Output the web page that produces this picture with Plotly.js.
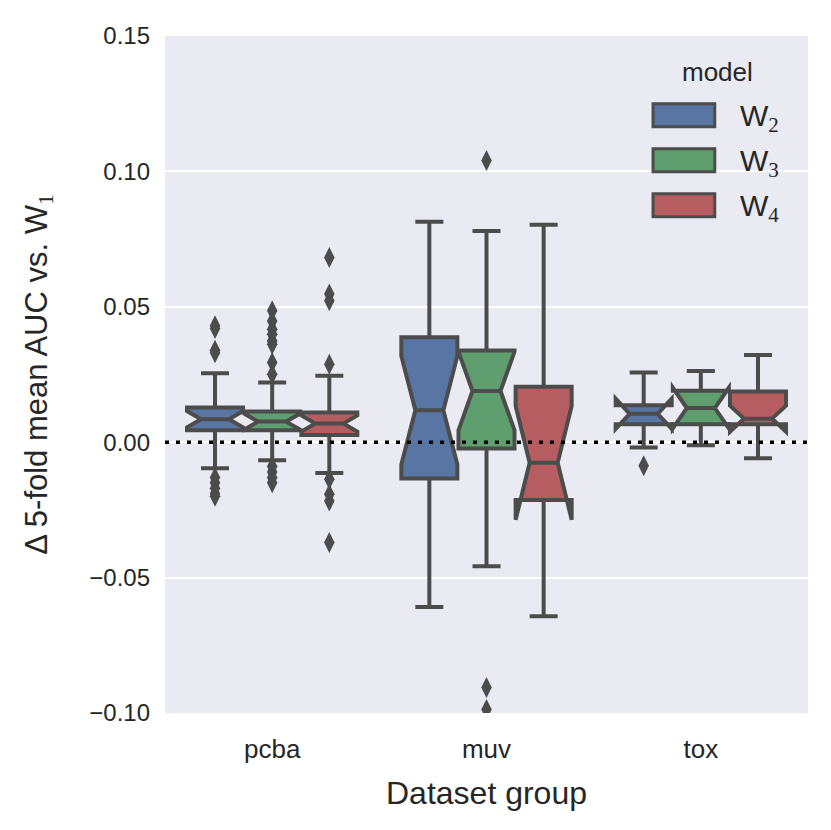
<!DOCTYPE html>
<html>
<head>
<meta charset="utf-8">
<script src="https://cdn.plot.ly/plotly-3.0.1.min.js"></script>
<style>
  body { margin: 0; background: #fff; }
  #chart { width: 831px; height: 830px; }
</style>
</head>
<body>
<div id="chart"></div>
<script>
const groups = ['pcba', 'muv', 'tox'];
const models = ['W<sub><span style="font-family:\'Liberation Serif\',serif">2</span></sub>',
                'W<sub><span style="font-family:\'Liberation Serif\',serif">3</span></sub>',
                'W<sub><span style="font-family:\'Liberation Serif\',serif">4</span></sub>'];
const yTicks = [-0.10, -0.05, 0.00, 0.05, 0.10, 0.15];

// box stats per model, one value per group (pcba, muv, tox)
const w2Q1 = [0.0044, -0.0134, 0.0066];
const w2Median = [0.0085, 0.0118, 0.0105];
const w2Q3 = [0.0128, 0.0388, 0.0136];
const w2Lower = [-0.0096, -0.0609, -0.0020];
const w2Upper = [0.0255, 0.0814, 0.0257];
const w2Notch = [0.003, 0.020, 0.0056];

const w3Q1 = [0.0044, -0.0023, 0.0066];
const w3Median = [0.0076, 0.0189, 0.0126];
const w3Q3 = [0.0113, 0.0339, 0.0190];
const w3Lower = [-0.0067, -0.0458, -0.0011];
const w3Upper = [0.0220, 0.0780, 0.0263];
const w3Notch = [0.003, 0.0145, 0.0075];

const w4Q1 = [0.0027, -0.0213, 0.0066];
const w4Median = [0.0069, -0.0076, 0.0087];
const w4Q3 = [0.0110, 0.0205, 0.0187];
const w4Lower = [-0.0114, -0.0643, -0.0059];
const w4Upper = [0.0245, 0.0803, 0.0322];
const w4Notch = [0.003, 0.0210, 0.0048];

// outliers: value + the group it belongs to
const w2Outliers = [0.043, 0.042, 0.034, 0.033, -0.013, -0.015, -0.017, -0.019, -0.020, -0.0087];
const w2OutGroup = ['pcba', 'pcba', 'pcba', 'pcba', 'pcba', 'pcba', 'pcba', 'pcba', 'pcba', 'tox'];
const w3Outliers = [0.0485, 0.0448, 0.0417, 0.0399, 0.0374, 0.0362, 0.0294, 0.0251, -0.009, -0.011, -0.013, -0.015, 0.104, -0.0906, -0.0987];
const w3OutGroup = ['pcba', 'pcba', 'pcba', 'pcba', 'pcba', 'pcba', 'pcba', 'pcba', 'pcba', 'pcba', 'pcba', 'pcba', 'muv', 'muv', 'muv'];
const w4Outliers = [0.0682, 0.0547, 0.0522, 0.0288, -0.0137, -0.0192, -0.0217, -0.037];
const w4OutGroup = ['pcba', 'pcba', 'pcba', 'pcba', 'pcba', 'pcba', 'pcba', 'pcba'];

const colors = ['#5975a4', '#5f9e6e', '#b55d60'];
const edge = '#4c4c4c';
const font = 'Arial, "Liberation Sans", sans-serif';

const stats = [
  [w2Q1, w2Median, w2Q3, w2Lower, w2Upper, w2Notch, w2Outliers, w2OutGroup],
  [w3Q1, w3Median, w3Q3, w3Lower, w3Upper, w3Notch, w3Outliers, w3OutGroup],
  [w4Q1, w4Median, w4Q3, w4Lower, w4Upper, w4Notch, w4Outliers, w4OutGroup]
];

// seaborn style dodge: 0.8 of each category split between the hues
const boxW = 0.8 / models.length;
const pos = (g, m) => groups.indexOf(g) + (m - (models.length - 1) / 2) * boxW;

const traces = [];
stats.forEach(([q1, med, q3, lo, hi, notch, out, outGroup], m) => {
  traces.push({
    type: 'box',
    x: groups.map(g => pos(g, m)),
    q1: q1, median: med, q3: q3,
    lowerfence: lo, upperfence: hi,
    notchspan: notch,
    notched: true,
    notchwidth: 0.25,
    width: boxW * 0.98,
    whiskerwidth: 0.5,
    boxpoints: false,
    fillcolor: colors[m],
    line: { color: edge, width: 4 },
    hoverinfo: 'skip'
  });
  traces.push({
    type: 'scatter',
    mode: 'markers',
    x: outGroup.map(g => pos(g, m)),
    y: out,
    marker: { symbol: 'diamond-tall', size: 15, color: edge },
    hoverinfo: 'skip'
  });
});

// hand-made legend, seaborn puts wide patches with the hue title on top
const shapes = [{
  type: 'line', xref: 'paper', x0: 0, x1: 1, yref: 'y', y0: 0, y1: 0,
  line: { color: '#000', width: 3.5, dash: '4px,7px' }, layer: 'above'
}];
const annotations = [{
  text: 'model', xref: 'paper', yref: 'paper', x: 0.86, y: 0.947,
  xanchor: 'center', yanchor: 'middle',
  showarrow: false, font: { family: font, size: 26, color: '#262626' }
}];
models.forEach((name, m) => {
  const yc = 0.883 - m * 0.0665;
  shapes.push({
    type: 'rect', xref: 'paper', yref: 'paper',
    x0: 0.759, x1: 0.855, y0: yc - 0.017, y1: yc + 0.017,
    fillcolor: colors[m], line: { color: edge, width: 3 }
  });
  annotations.push({
    text: name, xref: 'paper', yref: 'paper', x: 0.891, y: yc - 0.004,
    xanchor: 'left', yanchor: 'middle', showarrow: false,
    font: { family: font, size: 30, color: '#262626' }
  });
});

const layout = {
  width: 831,
  height: 830,
  margin: { l: 165, r: 23, t: 36, b: 117 },
  paper_bgcolor: '#ffffff',
  plot_bgcolor: '#eaeaf2',
  showlegend: false,
  font: { family: font, color: '#262626' },
  xaxis: {
    range: [-0.5, 2.5],
    tickvals: groups.map((g, i) => i),
    ticktext: groups,
    tickfont: { size: 26 },
    showgrid: false,
    zeroline: false,
    showline: false,
    ticks: '',
    ticklabelstandoff: 18,
    title: { text: 'Dataset group', font: { size: 32 }, standoff: 18 },
    fixedrange: true
  },
  yaxis: {
    range: [-0.10, 0.15],
    tickvals: yTicks,
    tickformat: '.2f',
    tickfont: { size: 24 },
    gridcolor: '#ffffff',
    gridwidth: 2,
    zeroline: false,
    showline: false,
    ticks: '',
    ticklabelstandoff: 14,
    title: {
      text: '\u0394 5-fold mean AUC vs. W<sub><span style="font-family:\'Liberation Serif\',serif">1</span></sub>',
      font: { size: 31 }, standoff: 32
    },
    fixedrange: true
  },
  shapes: shapes,
  annotations: annotations
};

Plotly.newPlot('chart', traces, layout, { displayModeBar: false, staticPlot: true });
</script>
</body>
</html>
